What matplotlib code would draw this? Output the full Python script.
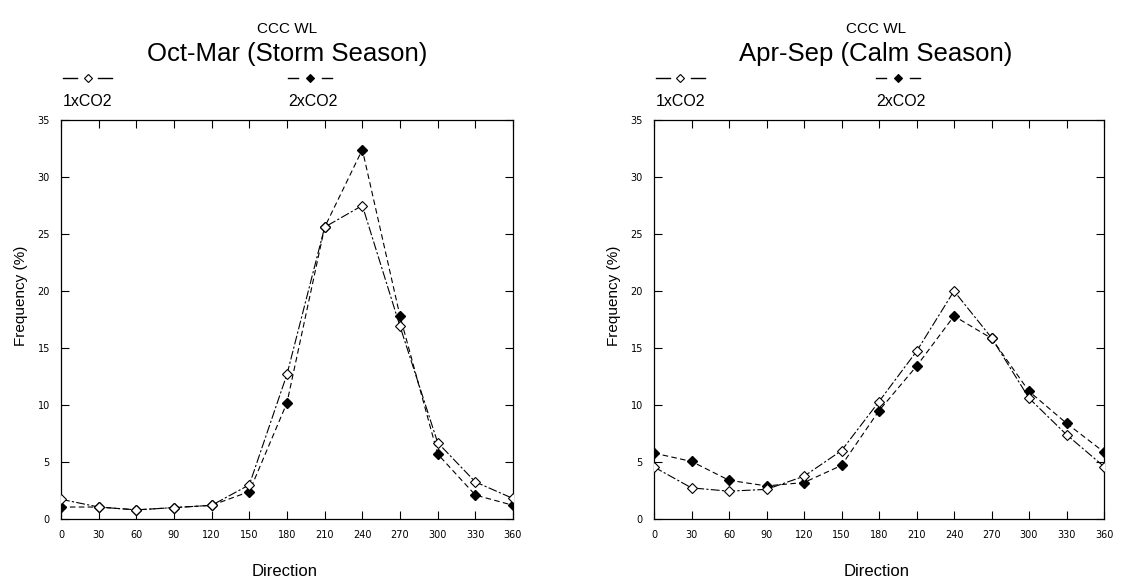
import matplotlib
matplotlib.use("Agg")
import matplotlib.pyplot as plt
from matplotlib.lines import Line2D

plt.rcParams['font.family'] = ['Liberation Sans', 'DejaVu Sans']

directions = [0, 30, 60, 90, 120, 150, 180, 210, 240, 270, 300, 330, 360]
xticks = [0, 30, 60, 90, 120, 150, 180, 210, 240, 270, 300, 330, 360]
yticks = [0, 5, 10, 15, 20, 25, 30, 35]

storm_1x = [1.73, 1.05, 0.8, 1.0, 1.2, 3.0, 12.7, 25.6, 27.5, 16.9, 6.7, 3.25, 1.8]
storm_2x = [1.05, 1.05, 0.8, 1.0, 1.2, 2.4, 10.2, 25.6, 32.4, 17.8, 5.7, 2.1, 1.2]
calm_1x = [4.56, 2.73, 2.44, 2.6, 3.75, 6.0, 10.3, 14.7, 20.0, 15.9, 10.6, 7.4, 4.6]
calm_2x = [5.78, 5.05, 3.4, 2.9, 3.2, 4.7, 9.5, 13.4, 17.8, 15.85, 11.2, 8.4, 5.87]

header = "CCC WL"
series_labels = ["1xCO2", "2xCO2"]
xlabel = "Direction"
ylabel = "Frequency (%)"

panels = [
    ("Oct-Mar (Storm Season)", storm_1x, storm_2x, [61, 513], 227, 287),
    ("Apr-Sep (Calm Season)", calm_1x, calm_2x, [654, 1104], 222, 876),
]

W, H = 1122, 585
fig = plt.figure(figsize=(W / 100, H / 100), dpi=100)

for title, s1, s2, (x0, x1), off2, cx in panels:
    ax = fig.add_axes([x0 / W, 1 - 519 / H, (x1 - x0) / W, (519 - 120) / H])
    ax.plot(directions, s1, color='black', lw=0.8, dashes=[8, 2, 2, 2],
            marker='D', markersize=5, markerfacecolor='white',
            markeredgecolor='black', markeredgewidth=0.8, zorder=3)
    ax.plot(directions, s2, color='black', lw=0.8, dashes=[5, 3],
            marker='D', markersize=5, markerfacecolor='black',
            markeredgecolor='black', zorder=2)
    ax.set_xlim(0, 360)
    ax.set_ylim(0, 35)
    ax.set_xticks(xticks)
    ax.set_yticks(yticks)
    ax.tick_params(direction='in', top=True, right=True, length=6,
                   width=0.8, labelsize=7, pad=8)
    for lab in ax.get_xticklabels() + ax.get_yticklabels():
        lab.set_family('DejaVu Sans')
    for sp in ax.spines.values():
        sp.set_linewidth(0.9)

    # axis labels
    fig.text(((x0 + x1) / 2 - 2) / W, 1 - 576 / H, xlabel, ha='center',
             va='baseline', fontsize=12)
    fig.text((x0 - 36) / W, 1 - 296 / H, ylabel, rotation=90,
             rotation_mode='anchor', ha='center', va='baseline', fontsize=11)

    # header and title
    fig.text(cx / W, 1 - 33 / H, header, ha='center', va='baseline', fontsize=11)
    fig.text(cx / W, 1 - 61 / H, title, ha='center', va='baseline', fontsize=18.5)

    # legend entries above the axes
    for lx, filled, label, dash, tot in [(x0 + 2, False, series_labels[0], 14, 49),
                                         (x0 + off2, True, series_labels[1], 10, 44)]:
        ly = 1 - 78 / H
        fig.add_artist(Line2D([lx / W, (lx + dash) / W], [ly, ly], color='black', lw=1.0))
        fig.add_artist(Line2D([(lx + tot - dash) / W, (lx + tot) / W], [ly, ly],
                              color='black', lw=1.0))
        fig.add_artist(Line2D([(lx + tot / 2) / W], [ly], marker='D', markersize=4.2,
                              markerfacecolor='black' if filled else 'white',
                              markeredgecolor='black', markeredgewidth=0.8))
        fig.text(lx / W, 1 - 106 / H, label, ha='left', va='baseline', fontsize=11.5)

fig.savefig("out.png", dpi=100)
